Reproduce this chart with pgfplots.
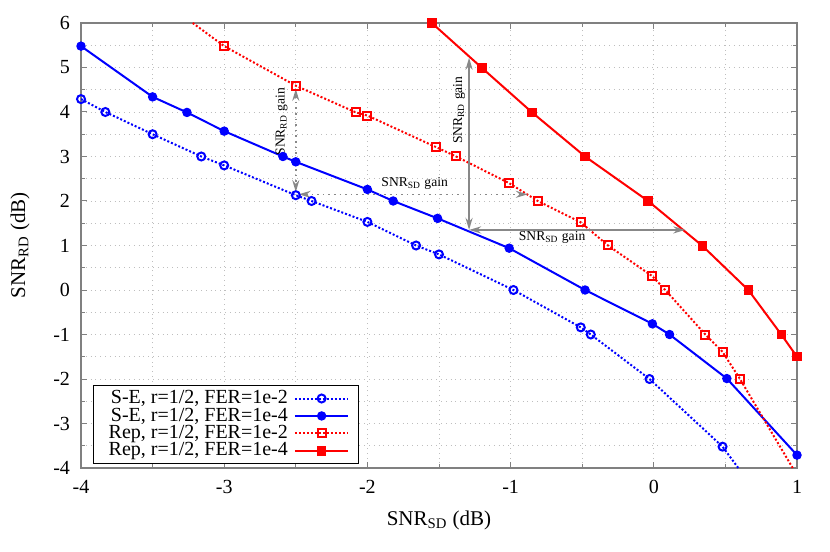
\documentclass[border=0pt]{standalone}
\usepackage{fontspec}
\setmainfont{Liberation Serif}
\usepackage{pgfplots}
\pgfplotsset{compat=1.18}
\usetikzlibrary{arrows.meta}

\definecolor{frame}{RGB}{128,128,128}
\definecolor{gridc}{RGB}{190,190,190}
\definecolor{arr}{RGB}{136,136,136}

\begin{document}
\begin{tikzpicture}
\begin{axis}[
    scale only axis,
    width=358pt, height=222.5pt,
    xmin=-4, xmax=1, ymin=-4, ymax=6,
    xtick={-4,-3,...,1},
    xticklabels={-4,-3,-2,-1,0,1},
    ytick={-4,-3,...,6},
    yticklabels={-4,-3,-2,-1,0,1,2,3,4,5,6},
    minor x tick num=1, minor y tick num=1,
    tick align=inside,
    major tick length=3pt, minor tick length=2pt,
    every tick/.style={frame, line width=0.5pt},
    axis line style={frame, line width=0.8pt},
    grid=both,
    major grid style={gridc, dotted, line width=0.4pt},
    minor grid style={gridc, dotted, line width=0.4pt},
    tick label style={font=\fontsize{10}{12}\selectfont},
    xticklabel style={yshift=-2.5pt},
    yticklabel style={xshift=-2pt},
    xlabel={SNR\textsubscript{SD} (dB)},
    ylabel={SNR\textsubscript{RD} (dB)},
    label style={font=\fontsize{10.5}{12}\selectfont},
    xlabel style={at={(axis description cs:0.5,-0.117)}, anchor=center},
    ylabel style={at={(axis description cs:-0.085,0.5)}, anchor=center},
    legend plot pos=right,
    legend cell align=right,
    legend image code/.code={%
      \draw[#1, mark indices={2}]
        plot coordinates {(0cm,0cm) (0.47cm,0cm) (0.94cm,0cm)};},
    legend style={at={(rel axis cs:0.017,0.008)}, anchor=south west,
      draw=black, line width=0.5pt, fill=white,
      font=\fontsize{10}{11}\selectfont,
      inner xsep=4.5pt, inner ysep=0.5pt, row sep=-3.4pt,
      nodes={inner xsep=3pt}},
]

% S-E, FER=1e-2
\addplot[blue, line width=1pt, dash pattern=on 1pt off 1pt,
  mark=o, mark size=2pt, mark options={solid, line width=1pt},
  mark indices={1,...,15}]
  coordinates {
    (-4,4.29) (-3.83,4.0) (-3.5,3.5) (-3.16,3.0) (-3.0,2.8)
    (-2.5,2.13) (-2.39,2.0) (-2.0,1.53) (-1.66,1.0) (-1.5,0.8)
    (-0.98,0.0) (-0.51,-0.84) (-0.44,-1.0) (-0.03,-2.0) (0.48,-3.52)
    (0.59,-4.0)
  };
\addlegendentry{S-E, r=1/2, FER=1e-2}

% S-E, FER=1e-4
\addplot[blue, line width=1pt, mark=*, mark size=2.1pt,
  mark options={line width=0.5pt}]
  coordinates {
    (-4,5.48) (-3.5,4.34) (-3.26,3.99) (-3.0,3.57) (-2.59,3.0)
    (-2.5,2.88) (-2.0,2.26) (-1.82,2.0) (-1.51,1.61) (-1.01,0.94)
    (-0.48,0.0) (-0.01,-0.76) (0.11,-1.0) (0.51,-1.99) (1.0,-3.71)
  };
\addlegendentry{S-E, r=1/2, FER=1e-4}

% Rep, FER=1e-2
\addplot[red, line width=1pt, dash pattern=on 1pt off 1pt,
  mark=square, mark size=2pt, mark options={solid, line width=1pt},
  mark indices={2,...,16}]
  coordinates {
    (-3.22,6.0)
    (-3.0,5.48) (-2.5,4.59) (-2.08,3.99) (-2.0,3.92) (-1.52,3.21)
    (-1.38,3.0) (-1.01,2.40) (-0.81,2.0) (-0.51,1.52) (-0.32,1.0)
    (-0.01,0.31) (0.08,0.0) (0.36,-1.0) (0.48,-1.39) (0.60,-1.99)
    (0.97,-4.0)
  };
\addlegendentry{Rep, r=1/2, FER=1e-2}

% Rep, FER=1e-4
\addplot[red, line width=1pt, mark=square*, mark size=2.1pt,
  mark options={line width=0.5pt}]
  coordinates {
    (-1.55,6.0) (-1.2,4.99) (-0.85,3.99) (-0.48,3.0) (-0.04,2.0)
    (0.34,0.99) (0.66,0.0) (0.89,-1.0) (1.0,-1.5)
  };
\addlegendentry{Rep, r=1/2, FER=1e-4}

% gain annotations
\draw[arr, line width=0.8pt, dotted, {Stealth[length=6pt,width=3.5pt,fill=arr]}-{Stealth[length=6pt,width=3.5pt,fill=arr]}]
  (axis cs:-2.5,4.52) -- (axis cs:-2.5,2.2);
\draw[arr, line width=0.8pt, dotted, {Stealth[length=6pt,width=3.5pt,fill=arr]}-{Stealth[length=6pt,width=3.5pt,fill=arr]}]
  (axis cs:-2.48,2.15) -- (axis cs:-0.88,2.15);
\draw[arr, line width=1.2pt, {Stealth[length=6pt,width=3.5pt]}-{Stealth[length=6pt,width=3.5pt]}]
  (axis cs:-1.29,5.22) -- (axis cs:-1.29,1.35);
\draw[arr, line width=1.2pt, {Stealth[length=6pt,width=3.5pt]}-{Stealth[length=6pt,width=3.5pt]}]
  (axis cs:-1.29,1.35) -- (axis cs:0.22,1.35);

\node[rotate=90, font=\fontsize{6.8}{8}\selectfont, inner sep=0pt]
  at (axis cs:-2.6,3.78) {SNR\textsubscript{RD} gain};
\node[font=\fontsize{6.8}{8}\selectfont, inner sep=0pt]
  at (axis cs:-1.67,2.4) {SNR\textsubscript{SD} gain};
\node[rotate=90, font=\fontsize{6.8}{8}\selectfont, inner sep=0pt]
  at (axis cs:-1.36,4.04) {SNR\textsubscript{RD} gain};
\node[font=\fontsize{6.8}{8}\selectfont, inner sep=0pt]
  at (axis cs:-0.71,1.17) {SNR\textsubscript{SD} gain};
\end{axis}
\pgfresetboundingbox
\path[use as bounding box]
  ([xshift=-40.5pt,yshift=-41.5pt]current axis.south west)
  rectangle ([xshift=16.5pt,yshift=11.5pt]current axis.north east);
\end{tikzpicture}
\end{document}
